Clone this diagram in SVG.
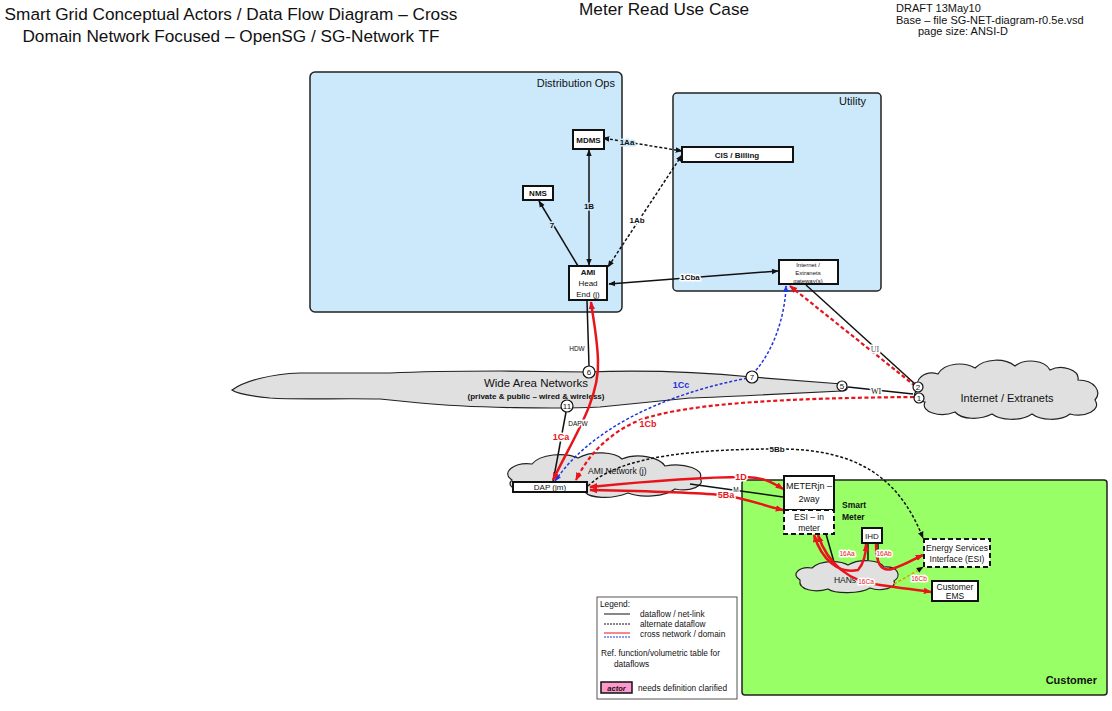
<svg xmlns="http://www.w3.org/2000/svg" width="1112" height="711" viewBox="0 0 1112 711">
<style>
text{font-family:"Liberation Sans",Arial,sans-serif;fill:#111}
.t{font-size:17.2px}
.s{font-size:11px}
.n{font-size:8px}
.b{font-weight:bold}
.dom{fill:#cce9fb;stroke:#222;stroke-width:1.5}
.grn{fill:#99ff66;stroke:#222;stroke-width:1.5}
.box{fill:#fff;stroke:#111;stroke-width:2}
.dbox{fill:#fff;stroke:#111;stroke-width:2;stroke-dasharray:5 3}
.cloud{fill:#e0e0e0;stroke:#222;stroke-width:1.2}
.k{fill:none;stroke:#111;stroke-width:1.5}
.kd{fill:none;stroke:#111;stroke-width:1.5;stroke-dasharray:3 2}
.r{fill:none;stroke:#e8141b;stroke-width:2.5}
.rd{fill:none;stroke:#e8141b;stroke-width:2.2;stroke-dasharray:4 2.5}
.bd{fill:none;stroke:#2233dd;stroke-width:1.5;stroke-dasharray:3 2}
.od{fill:none;stroke:#e0a000;stroke-width:1.5;stroke-dasharray:3 2}
.lw{paint-order:stroke;stroke:#fff;stroke-width:3px;stroke-linejoin:round}
.lb{paint-order:stroke;stroke:#cce9fb;stroke-width:3px;stroke-linejoin:round}
.lc{paint-order:stroke;stroke:#e0e0e0;stroke-width:3px;stroke-linejoin:round}
.red{fill:#e8141b}
.blue{fill:#2233dd}
.num{fill:#fff;stroke:#111;stroke-width:1.2}
.lg{font-size:8.3px}
</style>
<defs>
<marker id="ak" viewBox="0 0 10 10" refX="9" refY="5" markerWidth="7" markerHeight="7" markerUnits="userSpaceOnUse" orient="auto-start-reverse"><path d="M0,1 L10,5 L0,9 Z" fill="#111"/></marker>
<marker id="ar" viewBox="0 0 10 10" refX="9" refY="5" markerWidth="8" markerHeight="8" markerUnits="userSpaceOnUse" orient="auto-start-reverse"><path d="M0,1 L10,5 L0,9 Z" fill="#e8141b"/></marker>
<marker id="ab" viewBox="0 0 10 10" refX="9" refY="5" markerWidth="7" markerHeight="7" markerUnits="userSpaceOnUse" orient="auto-start-reverse"><path d="M0,1 L10,5 L0,9 Z" fill="#2233dd"/></marker>
</defs>
<rect width="1112" height="711" fill="#fff"/>

<g id="titles">
<text class="t" x="231" y="20" text-anchor="middle">Smart Grid Conceptual Actors / Data Flow Diagram – Cross</text>
<text class="t" x="231" y="42" text-anchor="middle">Domain Network Focused – OpenSG / SG-Network TF</text>
<text class="t" x="579" y="15">Meter Read Use Case</text>
<text class="s" x="896" y="12">DRAFT 13May10</text>
<text class="s" x="896" y="24">Base – file SG-NET-diagram-r0.5e.vsd</text>
<text class="s" x="918" y="35">page size: ANSI-D</text>
</g>

<g id="distribution-ops">
<rect class="dom" x="310" y="72" width="312" height="240" rx="5"/>
<text class="s" x="615" y="87" text-anchor="end">Distribution Ops</text>
</g>
<g id="utility">
<rect class="dom" x="673" y="93" width="208" height="198" rx="4"/>
<text class="s" x="866" y="105" text-anchor="end">Utility</text>
</g>
<g id="customer">
<rect class="grn" x="742" y="480" width="365" height="215" rx="3"/>
<text class="s b" x="1097" y="684" text-anchor="end">Customer</text>
</g>

<g id="wan">
<path class="cloud" d="M232,390 C245,381 270,374 300,373 L390,373 C430,371 470,371 500,371 L587,372 C640,370 700,372 752,377 L842,384 C849,386 849,390 842,391 L760,395 C720,397 700,398 690,398 L600,407 C560,409 470,408 420,403 L380,399 C340,398 300,400 270,398 C250,396 237,394 232,390 Z"/>
<text x="536" y="387" text-anchor="middle" font-size="11.5">Wide Area Networks</text>
<text x="536" y="399" text-anchor="middle" font-size="8" class="b">(private &amp; public – wired &amp; wireless)</text>
</g>

<g id="internet">
<path class="cloud" d="M920,390 C912,380 925,370 938,374 C945,362 965,362 975,368 C985,358 1005,358 1015,366 C1025,358 1045,360 1050,370 C1062,364 1080,370 1078,380 C1095,380 1102,392 1095,400 C1102,410 1085,418 1070,414 C1060,422 1040,420 1032,414 C1020,422 1000,420 992,414 C980,420 962,420 955,412 C940,418 920,412 925,402 C912,400 912,392 920,390 Z"/>
<text x="1007" y="402" text-anchor="middle" font-size="11">Internet / Extranets</text>
</g>

<g id="ami-network">
<path class="cloud" d="M512,480 C500,472 515,462 532,464 C540,454 565,452 578,458 C592,450 615,452 622,459 C638,452 660,458 665,466 C685,462 705,470 700,478 C706,486 690,492 675,489 C665,497 640,498 628,493 C610,500 590,498 585,492 L520,490 C510,488 508,484 512,480 Z"/>
<text x="588" y="474" font-size="8.5">AMI Network (j)</text>
</g>

<g id="hans">
<path class="cloud" d="M800,580 C790,574 800,566 812,568 C820,560 840,560 848,565 C860,558 880,560 884,567 C898,566 902,576 894,581 C898,588 880,592 870,588 C860,594 835,594 828,589 C815,593 798,590 800,580 Z"/>
<text x="845" y="583" text-anchor="middle" font-size="8.5">HANs</text>
</g>

<g id="connectors">
<path class="kd" d="M682,151 L603,138" marker-start="url(#ak)" marker-end="url(#ak)"/>
<path class="kd" d="M682,155 L608,267" marker-start="url(#ak)" marker-end="url(#ak)"/>
<path class="k" d="M589,150 L589,265" marker-start="url(#ak)" marker-end="url(#ak)"/>
<path class="k" d="M578,266 L539,201" marker-end="url(#ak)"/>
<path class="k" d="M778,271 L609,284" marker-start="url(#ak)" marker-end="url(#ak)"/>
<path class="k" d="M587,301 L589,366"/>
<path class="k" d="M566,412 L553,482"/>
<path class="k" d="M806,285 L915,384"/>
<path class="k" d="M848,387 L913,394"/>
<path class="rd" d="M790,286 L914,385" marker-start="url(#ar)"/>
<path class="rd" d="M914,397 C800,398 690,402 640,420 C610,432 588,455 576,480" marker-end="url(#ar)"/>
<path class="bd" d="M555,481 C590,430 660,395 748,378 C770,360 785,320 786,286" marker-start="url(#ab)" marker-end="url(#ab)"/>
<path class="r" d="M553,480 C572,440 600,400 598,360 C597,335 593,318 591,302" marker-start="url(#ar)" marker-end="url(#ar)"/>
<path class="kd" d="M588,486 C620,455 700,449 780,449 C860,449 900,480 923,538" marker-end="url(#ak)"/>
<path class="r" d="M590,487 C650,481 715,477 745,477 C762,477 772,482 783,489" marker-start="url(#ar)" marker-end="url(#ar)"/>
<path class="r" d="M590,490 C640,491 690,492 722,495 C745,498 765,506 783,510" marker-start="url(#ar)" marker-end="url(#ar)"/>
<path class="k" d="M690,484 L783,497"/>
<path class="k" d="M826,534 L834,562"/>
<path class="k" d="M868,543 L868,560"/>
<path class="k" d="M878,543 L878,560"/>
<path class="r" d="M814,535 C822,560 838,574 858,570 C865,562 866,552 866,544" marker-start="url(#ar)" marker-end="url(#ar)"/>
<path class="r" d="M876,544 C876,562 880,572 892,569 C905,565 914,559 923,555" marker-end="url(#ar)"/>
<path class="r" d="M818,535 C828,565 850,582 880,585 C900,588 918,590 931,592" marker-start="url(#ar)" marker-end="url(#ar)"/>
<path class="od" d="M894,584 C905,578 915,572 923,567" marker-end="url(#ak)"/>
</g>

<g id="circles">
<circle class="num" cx="589" cy="372" r="6"/><text class="n" x="589" y="375" text-anchor="middle">6</text>
<circle class="num" cx="567" cy="406" r="6"/><text class="n" x="567" y="409" text-anchor="middle">11</text>
<circle class="num" cx="752" cy="377" r="6"/><text class="n" x="752" y="380" text-anchor="middle">7</text>
<circle class="num" cx="842" cy="386" r="5"/><text class="n" x="842" y="389" text-anchor="middle">5</text>
<circle class="num" cx="918" cy="387" r="5"/><text class="n" x="918" y="390" text-anchor="middle">2</text>
<circle class="num" cx="919" cy="398" r="5"/><text class="n" x="919" y="401" text-anchor="middle">1</text>
</g>

<g id="labels">
<text class="n b lb" x="627" y="145" text-anchor="middle">1Aa</text>
<text class="n b lb" x="589" y="209" text-anchor="middle">1B</text>
<text class="n b lb" x="552" y="228" text-anchor="middle">7</text>
<text class="n b lw" x="637" y="223" text-anchor="middle">1Ab</text>
<text class="n b lw" x="690" y="280" text-anchor="middle">1Cba</text>
<text x="577" y="351" text-anchor="middle" font-size="6.5" class="lw">HDW</text>
<text x="578" y="426" text-anchor="middle" font-size="6.5" class="lw">DAPW</text>
<text x="875" y="352" text-anchor="middle" font-size="8" class="lw" style="font-family:'Liberation Serif',serif;fill:#555">UI</text>
<text x="876" y="394" text-anchor="middle" font-size="8" class="lw" style="font-family:'Liberation Serif',serif">WI</text>
<text x="561" y="440" text-anchor="middle" font-size="9" class="b red lw">1Ca</text>
<text x="648" y="427" text-anchor="middle" font-size="9" class="b red lw">1Cb</text>
<text x="681" y="388" text-anchor="middle" font-size="9" class="b blue lc">1Cc</text>
<text x="777" y="452" text-anchor="middle" font-size="8" class="b lw">5Bb</text>
<text x="741" y="480" text-anchor="middle" font-size="9" class="b red lw">1D</text>
<text x="726" y="498" text-anchor="middle" font-size="9" class="b red lw">5Ba</text>
<text x="736" y="492" text-anchor="middle" font-size="6.5" class="lw">M</text>
<text x="847" y="556" text-anchor="middle" font-size="6.5" class="red lw">16Aa</text>
<text x="884" y="556" text-anchor="middle" font-size="6.5" class="red lw">16Ab</text>
<text x="866" y="584" text-anchor="middle" font-size="6.5" class="red lw">16Ca</text>
<text x="919" y="581" text-anchor="middle" font-size="6.5" class="red lw">16Cb</text>
</g>

<g id="mdms"><rect class="box" x="573" y="130" width="31" height="19"/><text class="n b" x="588.5" y="143" text-anchor="middle">MDMS</text></g>
<g id="nms"><rect class="box" x="523" y="186" width="30" height="14"/><text class="n b" x="538" y="196" text-anchor="middle">NMS</text></g>
<g id="ami-head-end"><rect class="box" x="569" y="266" width="38" height="34"/>
<text class="n b" x="588" y="275" text-anchor="middle">AMI</text><text class="n" x="588" y="286" text-anchor="middle">Head</text><text class="n" x="588" y="297" text-anchor="middle">End (j)</text></g>
<g id="cis-billing"><rect class="box" x="682" y="147" width="111" height="15"/><text class="n b" x="737" y="157.5" text-anchor="middle">CIS / Billing</text></g>
<g id="gateway"><rect class="box" x="779" y="260" width="59" height="24" stroke-width="1.5"/>
<text x="808" y="267" text-anchor="middle" font-size="6">Internet /</text><text x="808" y="275" text-anchor="middle" font-size="6">Extranets</text><text x="808" y="283" text-anchor="middle" font-size="6">gateway(s)</text></g>
<g id="dap"><rect class="box" x="513" y="482" width="74" height="10" stroke-width="1.5"/><text class="n" x="550" y="490" text-anchor="middle">DAP (jm)</text></g>
<g id="meter"><rect class="box" x="784" y="476" width="50" height="34"/>
<text x="809" y="489" text-anchor="middle" font-size="9">METERjn –</text><text x="809" y="502" text-anchor="middle" font-size="9">2way</text></g>
<g id="esi-in-meter"><rect class="dbox" x="784" y="510" width="50" height="24"/>
<text x="809" y="520" text-anchor="middle" font-size="8.5">ESI – in</text><text x="809" y="531" text-anchor="middle" font-size="8.5">meter</text></g>
<text x="842" y="508" font-size="8.5" class="b">Smart</text><text x="842" y="520" font-size="8.5" class="b">Meter</text>
<g id="ihd"><rect class="box" x="862" y="528" width="20" height="15"/><text class="n" x="872" y="539" text-anchor="middle">IHD</text></g>
<g id="esi"><rect class="dbox" x="924" y="539" width="66" height="28"/>
<text x="957" y="551" text-anchor="middle" font-size="8.5">Energy Services</text><text x="957" y="562" text-anchor="middle" font-size="8.5">Interface (ESI)</text></g>
<g id="customer-ems"><rect class="box" x="932" y="581" width="46" height="20"/>
<text x="955" y="590" text-anchor="middle" font-size="8.5">Customer</text><text x="955" y="599" text-anchor="middle" font-size="8.5">EMS</text></g>

<g id="legend">
<rect x="597" y="597" width="140" height="102" fill="#fff" stroke="#555" stroke-width="1"/>
<text class="lg" x="600" y="607">Legend:</text>
<line x1="604" y1="614" x2="630" y2="614" stroke="#111" stroke-width="1"/>
<text class="lg" x="640" y="617">dataflow / net-link</text>
<line x1="604" y1="624" x2="630" y2="624" stroke="#111" stroke-width="1" stroke-dasharray="2 1"/>
<text class="lg" x="640" y="627">alternate dataflow</text>
<line x1="604" y1="633" x2="630" y2="633" stroke="#e8141b" stroke-width="1"/>
<line x1="604" y1="637" x2="630" y2="637" stroke="#2233dd" stroke-width="1" stroke-dasharray="2 1"/>
<text class="lg" x="640" y="637">cross network / domain</text>
<text class="lg" x="601" y="656">Ref. function/volumetric table for</text>
<text class="lg" x="614" y="667">dataflows</text>
<rect x="601" y="682" width="31" height="11" fill="#ff99cc" stroke="#111" stroke-width="1.5"/>
<text x="616.5" y="690.5" font-size="7.5" text-anchor="middle" font-style="italic" font-weight="bold">actor</text>
<text class="lg" x="638" y="691">needs definition clarified</text>
</g>
</svg>
